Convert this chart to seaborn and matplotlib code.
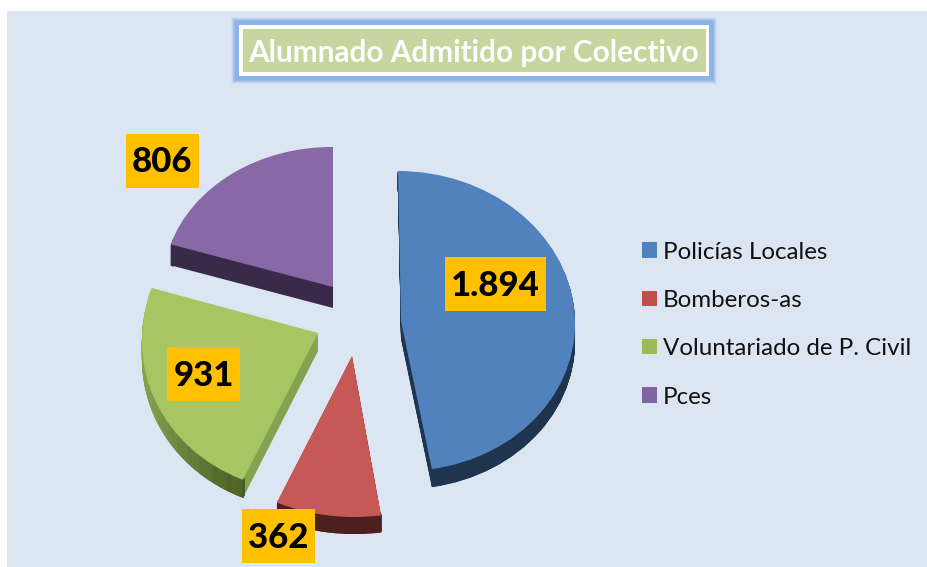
import matplotlib
matplotlib.use('Agg')
import matplotlib.pyplot as plt
from matplotlib.patches import Rectangle, Wedge
from matplotlib.transforms import Affine2D
import seaborn as sns

# Data
categories = ['Policías Locales', 'Bomberos-as', 'Voluntariado de P. Civil', 'Pces']
values = [1894, 362, 931, 806]
title = 'Alumnado Admitido por Colectivo'

# Colours
top_colors = ['#5182BE', '#C65855', '#A8C563', '#8868A6']
legend_colors = ['#4F81BD', '#C0504D', '#9BBB59', '#8064A2']
side_colors = ['#1F344F', '#4E1F1F', '#85A24E', '#3A2A4A']

# Each slice sits at its own place on the tilted pie (pixels):
# apex x, apex y, x scale, x shear, y shear, y scale, depth
slice_geom = [
    (401, 321, 174, -3, 0, 150, 18),
    (352, 356, 187, 1, -3, 161, 17),
    (318, 333, 176, 5.7, 2.4, 159, 18),
    (333, 287, 170, 0, -1, 140, 21),
]
# label centre x, centre y, box width, box height
label_geom = [(495.5, 284, 101, 54), (278.5, 536, 73, 54), (203.5, 374, 73, 54), (162.5, 161, 73, 54)]

sns.set_theme(style='white')
plt.rcParams['font.family'] = ['Lato', 'DejaVu Sans']

W, H = 928, 567
fig = plt.figure(figsize=(W / 100, H / 100), dpi=100, facecolor='white')
ax = fig.add_axes([0, 0, 1, 1])


def slice_transform(geom, shift=0):
    x0, y0, a, s, t, b, depth = geom
    return Affine2D.from_values(a, -t, s, -b, x0, y0 + shift * depth) + ax.transData


def place(wedges, shift=0):
    for wedge, geom in zip(wedges, slice_geom):
        wedge.set_transform(slice_transform(geom, shift))
        wedge.set_linewidth(0)


# Rim shading per slice, light to dark along the arc
rim_palettes = [
    sns.blend_palette(['#1F344F', '#1F344F'], 2),
    sns.blend_palette(['#4E1F1F', '#4E1F1F'], 2),
    sns.blend_palette(['#9AB75F', '#7E9A4C', '#43561F'], 30),
    sns.blend_palette(['#3A2A4A', '#3A2A4A'], 2),
]

# Depth of the pie: stacked copies from the bottom up
n_layers = 22
for i in range(n_layers, 0, -1):
    shift = i / n_layers
    layer = ax.pie(values, startangle=90, counterclock=False,
                   colors=sns.color_palette(side_colors))[0]
    place(layer, shift)
    for wedge, geom, rim in zip(layer, slice_geom, rim_palettes):
        step = (wedge.theta2 - wedge.theta1) / len(rim)
        for k, c in enumerate(rim):
            t1 = wedge.theta1 + k * step
            ax.add_patch(Wedge((0, 0), 1, t1, t1 + step + 0.2, width=0.02, fc=c, lw=0,
                               transform=slice_transform(geom, shift)))

# Top faces
wedges = ax.pie(values, startangle=90, counterclock=False,
                colors=sns.color_palette(top_colors))[0]
place(wedges)

ax.set_aspect('auto')
ax.set_xlim(0, W)
ax.set_ylim(H, 0)
ax.set_axis_off()

# Chart area
ax.add_patch(Rectangle((7, 11), W - 7, H - 11, fc='#DCE6F2', ec='none', zorder=-5))

# Title box with glow
for grow, alpha in [(8, 0.12), (7, 0.22), (6, 0.4), (5, 0.65), (4, 1)]:
    ax.add_patch(Rectangle((239 - grow, 25 - grow), 470.5 + 2 * grow, 51 + 2 * grow,
                           fc='#8DB4E8', ec='none', alpha=alpha, zorder=3))
ax.add_patch(Rectangle((239, 25), 470.5, 51, fc='white', ec='none', zorder=3))
ax.add_patch(Rectangle((243, 29), 463, 43, fc='#C6D69E', ec='none', zorder=3))
ax.text(473.5, 53, title, color='white', fontsize=21.4, fontweight='bold',
        ha='center', va='center', zorder=4)

# Value labels
for v, (x, y, bw, bh) in zip(values, label_geom):
    ax.add_patch(Rectangle((x - bw / 2, y - bh / 2), bw, bh, fc='#FFC000', ec='none', zorder=5))
    ax.text(x, y + 1.5, f'{v:,}'.replace(',', '.'), fontsize=25, fontweight='black', color='black',
            ha='center', va='center', zorder=6)

# Legend
handles = [Rectangle((0, 0), 1, 1, fc=c, ec='none') for c in legend_colors]
ax.legend(handles, categories, loc='upper left', bbox_to_anchor=(630 / W, 1 - 229.5 / H),
          frameon=False, fontsize=17.4, handlelength=0.6, handleheight=0.6,
          handletextpad=0.26, labelspacing=1.13, labelcolor='#111111',
          borderpad=0.5, borderaxespad=0)

fig.savefig('out.png', dpi=100, facecolor='white')
